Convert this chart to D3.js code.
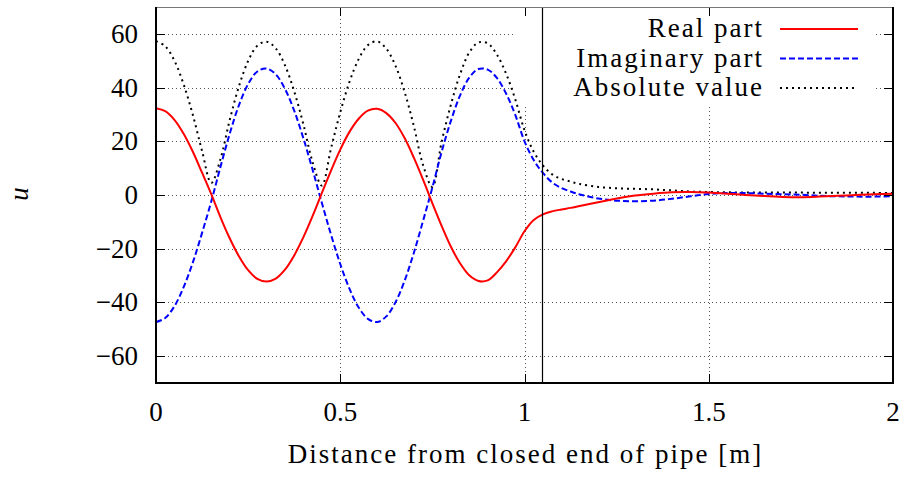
<!DOCTYPE html>
<html>
<head>
<meta charset="utf-8">
<script src="https://cdn.jsdelivr.net/npm/d3@7"></script>
<style>
  html, body { margin: 0; padding: 0; background: #fff; }
  svg text { font-family: "Liberation Serif", "Times New Roman", Tinos, "DejaVu Serif", "Noto Serif", serif; }
</style>
</head>
<body>
<svg id="chart" width="905" height="477"></svg>
<script>
// Pipe standing wave — real / imaginary / absolute value of u along the pipe.
// Values, one array per series.

const X_POS = [0, 0.025, 0.05, 0.075, 0.1, 0.125, 0.15, 0.175, 0.2, 0.225, 0.25, 0.275,
  0.3, 0.325, 0.35, 0.375, 0.4, 0.425, 0.45, 0.475, 0.5, 0.525, 0.55, 0.575,
  0.6, 0.625, 0.65, 0.675, 0.7, 0.725, 0.75, 0.775, 0.8, 0.825, 0.85, 0.875,
  0.9, 0.925, 0.95, 0.975, 1.0, 1.025, 1.05, 1.075, 1.1, 1.125, 1.15,
  1.2, 1.25, 1.3, 1.35, 1.4, 1.45, 1.5, 1.55, 1.6, 1.65, 1.7, 1.75, 1.8, 1.85, 1.9, 1.95, 2.0];

const REAL_PART = [32.3, 31.2, 28.0, 22.8, 16.1, 8.3, 0.3, -8.3, -16.1, -22.8, -28.0, -31.2,
  -32.2, -31.1, -27.8, -22.5, -15.7, -7.8, 0.7, 9.1, 16.9, 23.5, 28.4, 31.4,
  32.1, 30.5, 26.8, 21.1, 13.8, 5.6, -3.1, -11.5, -19.2, -25.4, -29.9, -32.0,
  -31.8, -28.8, -24.7, -19.5, -13.5, -9.3, -7.2, -6.1, -5.4, -4.8, -4.1,
  -2.7, -1.3, -0.2, 0.5, 1.0, 1.1, 0.9, 0.5, 0.0, -0.4, -0.7, -0.8, -0.6, -0.3, 0.0, 0.3, 0.5];

const IMAG_PART = [-47.3, -45.8, -41.4, -34.3, -25.1, -14.1, -2.4, 10.5, 22.8, 33.4, 41.3, 46.0,
  47.1, 44.9, 39.5, 31.4, 21.1, 9.4, -2.9, -14.8, -25.7, -34.9, -41.9, -46.1,
  -47.3, -45.2, -39.9, -31.8, -21.4, -9.5, 2.8, 16.0, 27.5, 37.0, 43.7, 46.9,
  46.7, 43.6, 37.8, 29.8, 20.0, 13.0, 8.2, 4.7, 2.6, 1.3, 0.2,
  -1.3, -2.1, -2.3, -2.1, -1.4, -0.5, 0.4, 0.7, 0.7, 0.5, 0.3, 0.1, -0.3, -0.5, -0.6, -0.6, -0.4];

const ABS_VALUE = [57.3, 55.4, 50.0, 41.2, 29.8, 16.4, 4.5, 13.4, 27.9, 40.4, 49.9, 55.6,
  57.1, 54.6, 48.3, 38.6, 26.3, 12.2, 3.5, 17.4, 30.8, 42.1, 50.6, 55.8,
  57.2, 54.5, 48.1, 38.2, 25.5, 11.0, 3.0, 19.7, 33.5, 44.9, 53.0, 56.8,
  56.5, 52.3, 45.2, 35.6, 24.1, 16.1, 11.0, 7.7, 6.0, 5.0, 4.1,
  3.0, 2.5, 2.3, 2.1, 1.7, 1.3, 1.1, 1.0, 0.9, 0.9, 0.9, 0.9, 0.8, 0.8, 0.8, 0.8, 0.7];

const SERIES_NAMES = ["Real part", "Imaginary part", "Absolute value"];
const X_TICKS = [0, 0.5, 1, 1.5, 2];
const Y_TICKS = [-60, -40, -20, 0, 20, 40, 60];
const OPEN_END = 1.047;   // vertical marker at the open end of the pipe

(function () {
  "use strict";

  const svg = d3.select("#chart");
  const M = { left: 156, right: 893, top: 7, bottom: 383 };
  const FONT = "'Liberation Serif', 'Times New Roman', Tinos, 'DejaVu Serif', 'Noto Serif', serif";

  const x = d3.scaleLinear().domain([0, 2]).range([M.left, M.right]);
  const y = d3.scaleLinear().domain([-70, 70]).range([M.bottom, M.top]);

  const TICK = 9;

  // grid
  const grid = svg.append("g")
    .attr("stroke", "#555")
    .attr("stroke-width", 1)
    .attr("stroke-dasharray", "1,3");
  Y_TICKS.forEach(function (v) {
    grid.append("line")
      .attr("x1", M.left).attr("x2", M.right)
      .attr("y1", Math.round(y(v)) + 0.5).attr("y2", Math.round(y(v)) + 0.5);
  });
  X_TICKS.slice(1, -1).forEach(function (v) {
    grid.append("line")
      .attr("x1", Math.round(x(v)) + 0.5).attr("x2", Math.round(x(v)) + 0.5)
      .attr("y1", M.top).attr("y2", M.bottom);
  });

  // legend box hides the grid behind it (gnuplot opaque key)
  svg.append("rect")
    .attr("x", 515).attr("y", M.top + 1)
    .attr("width", 876 - 515).attr("height", 104 - M.top)
    .attr("fill", "#fff");

  // curves
  const series = [
    { name: SERIES_NAMES[0], values: REAL_PART, color: "#ff0000", dash: null },
    { name: SERIES_NAMES[1], values: IMAG_PART, color: "#0000ff", dash: "6,3" },
    { name: SERIES_NAMES[2], values: ABS_VALUE, color: "#000000", dash: "2,4" }
  ];

  const line = d3.line()
    .x(function (d) { return x(d[0]); })
    .y(function (d) { return y(d[1]); })
    .curve(d3.curveCatmullRom.alpha(0.5));

  const plot = svg.append("g");
  series.slice().reverse().forEach(function (s) {
    plot.append("path")
      .datum(X_POS.map(function (xv, i) { return [xv, s.values[i]]; }))
      .attr("d", line)
      .attr("fill", "none")
      .attr("stroke", s.color)
      .attr("stroke-width", 2)
      .attr("stroke-dasharray", s.dash);
  });

  // open-end marker
  svg.append("line")
    .attr("x1", Math.round(x(OPEN_END)) + 0.5).attr("x2", Math.round(x(OPEN_END)) + 0.5)
    .attr("y1", M.top).attr("y2", M.bottom)
    .attr("stroke", "#000").attr("stroke-width", 1.2);

  // legend
  const key = svg.append("g").attr("font-size", 27).attr("font-family", FONT)
    .attr("letter-spacing", 2);
  series.forEach(function (s, i) {
    const ly = 29 + i * 29.5;
    key.append("text")
      .attr("x", 764).attr("y", ly + 8)
      .attr("text-anchor", "end")
      .text(s.name);
    key.append("line")
      .attr("x1", 780).attr("x2", 858)
      .attr("y1", ly).attr("y2", ly)
      .attr("stroke", s.color)
      .attr("stroke-width", 2)
      .attr("stroke-dasharray", s.dash);
  });

  // ticks (inward, mirrored on top and right)
  const ticks = svg.append("g").attr("stroke", "#000").attr("stroke-width", 1);
  Y_TICKS.forEach(function (v) {
    const yy = Math.round(y(v)) + 0.5;
    ticks.append("line").attr("x1", M.left).attr("x2", M.left + TICK).attr("y1", yy).attr("y2", yy);
    ticks.append("line").attr("x1", M.right - TICK).attr("x2", M.right).attr("y1", yy).attr("y2", yy);
  });
  X_TICKS.forEach(function (v) {
    const xx = Math.round(x(v)) + 0.5;
    ticks.append("line").attr("x1", xx).attr("x2", xx).attr("y1", M.bottom).attr("y2", M.bottom - TICK);
    ticks.append("line").attr("x1", xx).attr("x2", xx).attr("y1", M.top).attr("y2", M.top + TICK);
  });

  // border
  svg.append("line").attr("x1", M.left).attr("x2", M.right).attr("y1", M.top + 0.5).attr("y2", M.top + 0.5)
    .attr("stroke", "#777").attr("stroke-width", 1);
  svg.append("path")
    .attr("d", "M" + M.left + "," + M.top + "V" + M.bottom + "H" + M.right + "V" + M.top)
    .attr("fill", "none").attr("stroke", "#000").attr("stroke-width", 2);

  // tick labels
  const labels = svg.append("g").attr("font-size", 27).attr("font-family", FONT).attr("fill", "#000");
  Y_TICKS.forEach(function (v) {
    labels.append("text")
      .attr("x", 138).attr("y", y(v) + 9)
      .attr("text-anchor", "end")
      .text(v < 0 ? "\u2212" + Math.abs(v) : String(v));
  });
  X_TICKS.forEach(function (v) {
    labels.append("text")
      .attr("x", x(v)).attr("y", 421)
      .attr("text-anchor", "middle")
      .text(String(v));
  });

  // axis titles
  svg.append("text")
    .attr("x", (M.left + M.right) / 2 + 1).attr("y", 463)
    .attr("text-anchor", "middle")
    .attr("font-size", 27)
    .attr("font-family", FONT)
    .attr("letter-spacing", 2)
    .text("Distance from closed end of pipe [m]");

  svg.append("text")
    .attr("transform", "translate(28,194) rotate(-90)")
    .attr("text-anchor", "middle")
    .attr("font-size", 27)
    .attr("font-family", FONT)
    .attr("font-style", "italic")
    .text("u");
})();
</script>
</body>
</html>
